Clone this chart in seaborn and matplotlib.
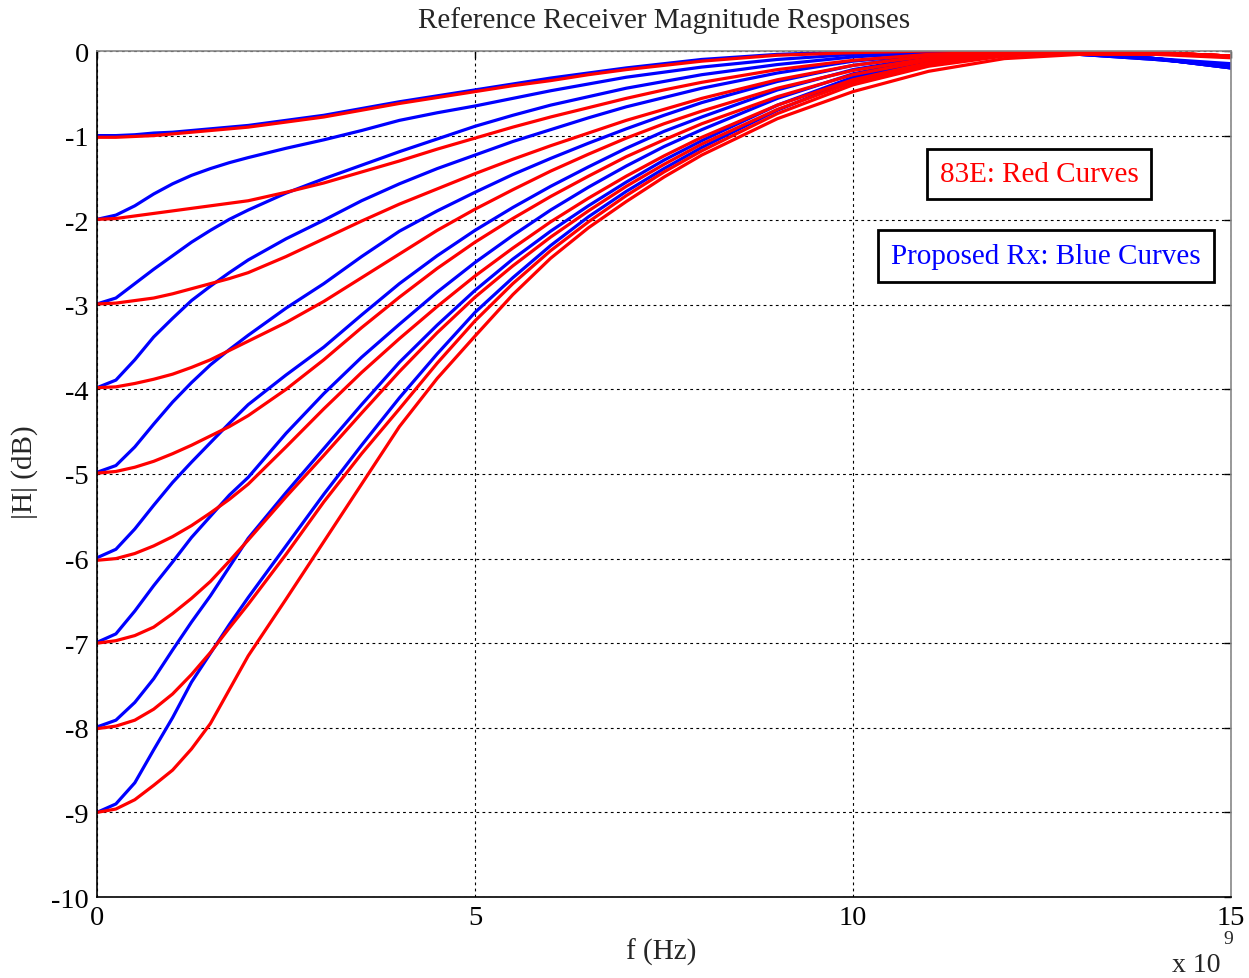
import numpy as np
import pandas as pd
import matplotlib
matplotlib.use("Agg")
import matplotlib.pyplot as plt
import seaborn as sns

# Frequencies (GHz) at which the curves were read
freq_ghz = [0, 0.25, 0.5, 0.75, 1, 1.25, 1.5, 1.75, 2, 2.5, 3, 3.5, 4, 4.5, 5, 5.5, 6, 6.5, 7, 7.5, 8, 9, 10, 11, 12, 13, 14, 15]

# Proposed Rx (blue) curves, DC gain -1 ... -9 dB
blue_1 = [-1.00, -1.00, -0.99, -0.97, -0.96, -0.94, -0.92, -0.90, -0.88, -0.82, -0.76, -0.68, -0.60, -0.53, -0.46, -0.39, -0.32, -0.26, -0.20, -0.15, -0.10, -0.04, -0.01, 0.00, -0.01, -0.04, -0.09, -0.15]
blue_2 = [-1.99, -1.94, -1.83, -1.69, -1.57, -1.47, -1.39, -1.32, -1.26, -1.15, -1.05, -0.94, -0.82, -0.73, -0.65, -0.56, -0.47, -0.39, -0.31, -0.25, -0.19, -0.10, -0.04, -0.01, -0.01, -0.04, -0.10, -0.17]
blue_3 = [-2.99, -2.92, -2.75, -2.58, -2.42, -2.26, -2.12, -1.99, -1.88, -1.68, -1.51, -1.35, -1.19, -1.04, -0.89, -0.76, -0.64, -0.54, -0.44, -0.36, -0.28, -0.16, -0.07, -0.02, -0.01, -0.04, -0.10, -0.18]
blue_4 = [-3.98, -3.89, -3.65, -3.38, -3.16, -2.95, -2.78, -2.62, -2.47, -2.22, -2.00, -1.77, -1.57, -1.39, -1.23, -1.07, -0.93, -0.79, -0.66, -0.55, -0.44, -0.26, -0.12, -0.04, -0.01, -0.03, -0.09, -0.18]
blue_5 = [-4.98, -4.90, -4.68, -4.41, -4.15, -3.92, -3.71, -3.53, -3.36, -3.04, -2.75, -2.43, -2.13, -1.89, -1.67, -1.46, -1.27, -1.09, -0.92, -0.76, -0.61, -0.36, -0.17, -0.05, -0.01, -0.03, -0.09, -0.19]
blue_6 = [-5.99, -5.89, -5.65, -5.37, -5.10, -4.86, -4.63, -4.40, -4.18, -3.83, -3.50, -3.12, -2.75, -2.42, -2.12, -1.85, -1.60, -1.37, -1.15, -0.95, -0.78, -0.46, -0.22, -0.07, -0.01, -0.03, -0.09, -0.19]
blue_7 = [-6.99, -6.89, -6.62, -6.32, -6.04, -5.75, -5.50, -5.25, -5.04, -4.52, -4.05, -3.62, -3.23, -2.85, -2.50, -2.18, -1.88, -1.61, -1.36, -1.13, -0.93, -0.56, -0.27, -0.09, -0.01, -0.03, -0.09, -0.20]
blue_8 = [-7.99, -7.91, -7.70, -7.42, -7.08, -6.75, -6.44, -6.10, -5.76, -5.22, -4.70, -4.18, -3.68, -3.24, -2.83, -2.46, -2.13, -1.83, -1.55, -1.29, -1.06, -0.64, -0.31, -0.11, -0.02, -0.03, -0.09, -0.20]
blue_9 = [-9.00, -8.90, -8.65, -8.26, -7.88, -7.46, -7.12, -6.78, -6.46, -5.85, -5.24, -4.66, -4.10, -3.58, -3.09, -2.68, -2.30, -1.96, -1.66, -1.39, -1.14, -0.70, -0.34, -0.12, -0.02, -0.03, -0.09, -0.20]

# 83E (red) curves, DC gain -1 ... -9 dB
red_1 = [-1.02, -1.02, -1.01, -1.00, -0.98, -0.96, -0.94, -0.92, -0.90, -0.84, -0.78, -0.70, -0.62, -0.55, -0.48, -0.41, -0.35, -0.28, -0.22, -0.17, -0.12, -0.05, -0.02, 0.00, 0.00, -0.01, -0.03, -0.06]
red_2 = [-1.99, -1.98, -1.95, -1.92, -1.89, -1.86, -1.83, -1.80, -1.77, -1.67, -1.56, -1.43, -1.30, -1.16, -1.03, -0.90, -0.78, -0.67, -0.56, -0.46, -0.37, -0.22, -0.11, -0.04, -0.01, 0.00, -0.02, -0.06]
red_3 = [-2.99, -2.98, -2.95, -2.92, -2.87, -2.81, -2.75, -2.69, -2.62, -2.43, -2.22, -2.01, -1.81, -1.63, -1.45, -1.28, -1.12, -0.97, -0.82, -0.69, -0.56, -0.34, -0.17, -0.06, -0.01, 0.00, -0.02, -0.06]
red_4 = [-3.98, -3.97, -3.93, -3.88, -3.82, -3.74, -3.65, -3.54, -3.43, -3.21, -2.96, -2.68, -2.40, -2.12, -1.87, -1.64, -1.42, -1.22, -1.03, -0.86, -0.71, -0.44, -0.23, -0.09, -0.02, 0.00, -0.02, -0.06]
red_5 = [-4.99, -4.97, -4.92, -4.85, -4.76, -4.66, -4.55, -4.44, -4.31, -4.00, -3.65, -3.27, -2.91, -2.57, -2.26, -1.98, -1.72, -1.48, -1.25, -1.05, -0.86, -0.54, -0.28, -0.11, -0.03, 0.00, -0.02, -0.06]
red_6 = [-6.02, -6.00, -5.94, -5.85, -5.74, -5.61, -5.46, -5.30, -5.12, -4.68, -4.23, -3.80, -3.40, -3.02, -2.66, -2.33, -2.02, -1.74, -1.48, -1.24, -1.02, -0.64, -0.34, -0.14, -0.04, 0.00, -0.02, -0.06]
red_7 = [-7.00, -6.97, -6.91, -6.81, -6.65, -6.47, -6.27, -6.03, -5.78, -5.27, -4.78, -4.28, -3.79, -3.33, -2.91, -2.54, -2.20, -1.89, -1.60, -1.34, -1.10, -0.69, -0.37, -0.16, -0.05, -0.01, -0.02, -0.06]
red_8 = [-8.01, -7.98, -7.91, -7.78, -7.60, -7.37, -7.11, -6.82, -6.54, -5.95, -5.33, -4.76, -4.23, -3.69, -3.19, -2.75, -2.36, -2.02, -1.71, -1.43, -1.18, -0.74, -0.40, -0.18, -0.06, -0.01, -0.02, -0.06]
red_9 = [-9.00, -8.96, -8.85, -8.68, -8.50, -8.25, -7.95, -7.55, -7.15, -6.48, -5.80, -5.12, -4.44, -3.87, -3.37, -2.88, -2.45, -2.09, -1.78, -1.49, -1.23, -0.80, -0.48, -0.24, -0.09, -0.04, -0.04, -0.08]

blue_curves = [blue_1, blue_2, blue_3, blue_4, blue_5, blue_6, blue_7, blue_8, blue_9]
red_curves = [red_1, red_2, red_3, red_4, red_5, red_6, red_7, red_8, red_9]

x_ticks = [0, 5, 10, 15]
x_tick_labels = ["0", "5", "10", "15"]
y_ticks = list(range(-10, 1))
y_tick_labels = [str(v) for v in y_ticks]

title_text = "Reference Receiver Magnitude Responses"
xlabel_text = "f (Hz)"
ylabel_text = "|H| (dB)"
red_note = "83E: Red Curves"
blue_note = "Proposed Rx: Blue Curves"

# Build long-form table
rows = []
for i, c in enumerate(blue_curves):
    for f, v in zip(freq_ghz, c):
        rows.append({"f": f * 1e9, "H": v, "curve": f"blue{i+1}"})
for i, c in enumerate(red_curves):
    for f, v in zip(freq_ghz, c):
        rows.append({"f": f * 1e9, "H": v, "curve": f"red{i+1}"})
df = pd.DataFrame(rows)
palette = {f"blue{i+1}": "#0000ff" for i in range(9)}
palette.update({f"red{i+1}": "#ff0000" for i in range(9)})

sns.set_style("white")
plt.rcParams["font.family"] = ["Liberation Serif", "DejaVu Serif"]

W, H = 1249, 979
fig = plt.figure(figsize=(W / 100, H / 100), dpi=100)
ax = fig.add_axes([97 / W, 1 - 898 / H, (1231 - 97) / W, (898 - 52) / H])

sns.lineplot(data=df, x="f", y="H", hue="curve", palette=palette,
             hue_order=list(palette.keys()), estimator=None, sort=False,
             linewidth=2.3, legend=False, ax=ax)

ax.set_xlim(0, 15e9)
ax.set_ylim(-10, 0)
ax.set_xticks([t * 1e9 for t in x_ticks])
ax.set_xticklabels(x_tick_labels)
ax.set_yticks(y_ticks)
ax.set_yticklabels(y_tick_labels)
ax.set_xlabel("")
ax.set_ylabel("")
ax.grid(True, color="black", linestyle=(0, (2.5, 3)), linewidth=0.8)
ax.set_axisbelow(True)
for s in ax.spines.values():
    s.set_color("black")
    s.set_linewidth(1.2)
ax.spines["top"].set_color("#888888")
ax.spines["right"].set_color("#888888")
ax.tick_params(axis="both", direction="in", length=5, width=1, labelsize=20.5,
               top=True, right=True, colors="black", pad=6)

fig.text(664 / W, 1 - 21 / H, title_text, ha="center", va="center", fontsize=21)
fig.text(661 / W, 1 - 952 / H, xlabel_text, ha="center", va="center", fontsize=21)
fig.text(25 / W, 1 - 472 / H, ylabel_text, ha="center", va="center", fontsize=21, rotation=90)
fig.text(1172 / W, 1 - 966 / H, "x 10", ha="left", va="center", fontsize=20)
fig.text(1223 / W, 1 - 940 / H, "9", ha="left", va="center", fontsize=14)

ax.text(1039 / W, 1 - 175 / H, red_note, transform=fig.transFigure, ha="center", va="center",
        fontsize=21, color="#ff0000",
        bbox=dict(boxstyle="square,pad=0.42", fc="white", ec="black", lw=2))
ax.text(1046 / W, 1 - 257 / H, blue_note, transform=fig.transFigure, ha="center", va="center",
        fontsize=21, color="#0000ff",
        bbox=dict(boxstyle="square,pad=0.45", fc="white", ec="black", lw=2))

fig.savefig("out.png", dpi=100)
